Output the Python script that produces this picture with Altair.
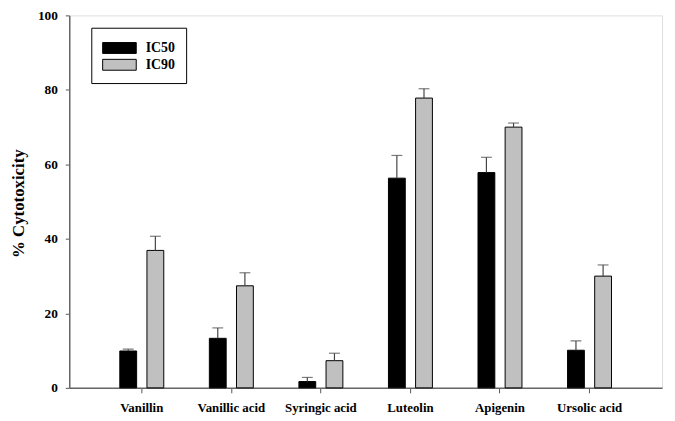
import altair as alt
import pandas as pd

compounds = ["Vanillin", "Vanillic acid", "Syringic acid", "Luteolin", "Apigenin", "Ursolic acid"]
series_names = ["IC50", "IC90"]
ic50 = [9.9, 13.3, 1.7, 56.3, 57.8, 10.1]
ic50_err = [0.5, 2.8, 1.1, 6.1, 4.1, 2.5]
ic90 = [36.9, 27.4, 7.3, 77.8, 70.0, 30.0]
ic90_err = [3.8, 3.5, 2.0, 2.5, 1.1, 3.0]
y_ticks = [0, 20, 40, 60, 80, 100]

rows = []
for i, c in enumerate(compounds):
    rows.append({"compound": c, "series": "IC50", "value": ic50[i], "hi": ic50[i] + ic50_err[i]})
    rows.append({"compound": c, "series": "IC90", "value": ic90[i], "hi": ic90[i] + ic90_err[i]})
df = pd.DataFrame(rows)

FONT = "Liberation Serif"
NBSP = "\u00a0"

x = alt.X("compound:N", sort=compounds, title=None,
          scale=alt.Scale(paddingInner=0, paddingOuter=0.31),
          axis=alt.Axis(labelAngle=0, labelFont=FONT, labelFontWeight="bold", labelFontSize=13,
                        labelColor="black", tickSize=5, tickColor="#555", domainColor="#666",
                        domainWidth=1.5, labelPadding=9))
xo = alt.XOffset("series:N", sort=series_names,
                 scale=alt.Scale(paddingInner=0.38, paddingOuter=0.84))
y = alt.Y("value:Q", title="% Cytotoxicity",
          scale=alt.Scale(domain=[0, 100], nice=False),
          axis=alt.Axis(values=y_ticks, grid=False, labelFont=FONT, labelFontWeight="bold",
                        labelFontSize=13.5, labelColor="black", tickSize=4, tickColor="#555",
                        domainColor="#666", domainWidth=1.5, labelPadding=8,
                        titleFont=FONT, titleFontWeight="bold", titleFontSize=17,
                        titleColor="black", titleX=-51, titleY=190, titleBaseline="middle",
                        titleAngle=-90))

bars = alt.Chart(df).mark_bar(stroke="black", strokeWidth=1).encode(
    x=x, xOffset=xo, y=y,
    color=alt.Color("series:N", sort=series_names,
                    scale=alt.Scale(domain=series_names, range=["black", "#c0c0c0"]),
                    legend=alt.Legend(title=None, orient="none", legendX=22.3, legendY=12.5,
                                      direction="vertical",
                                      symbolType="M-1.889,-0.611H1.889V0.611H-1.889Z",
                                      symbolSize=324, symbolStrokeColor="black",
                                      symbolStrokeWidth=1, symbolOpacity=1, symbolOffset=8,
                                      labelFont=FONT, labelFontWeight="bold", labelFontSize=14,
                                      labelColor="black", labelOffset=17,
                                      labelExpr="datum.label + '" + NBSP * 2 + "'",
                                      strokeColor="black", fillColor="white", padding=11,
                                      rowPadding=0)),
)

err_rule = alt.Chart(df).mark_rule(color="#444", strokeWidth=1.2).encode(
    x=x, xOffset=xo, y=alt.Y("value:Q"), y2="hi:Q")
err_cap = alt.Chart(df).mark_tick(color="#444", size=11, thickness=1.2).encode(
    x=x, xOffset=xo, y=alt.Y("hi:Q"))

chart = alt.layer(bars, err_rule, err_cap).properties(
    width=600, height=377,
    autosize=alt.AutoSizeParams(type="none"),
    padding={"left": 62, "top": 5, "right": 5, "bottom": 26},
).configure_view(stroke="#666", strokeWidth=1.5).configure(background="white")

chart.save("out.html", embed_options={"renderer": "svg", "actions": False})
